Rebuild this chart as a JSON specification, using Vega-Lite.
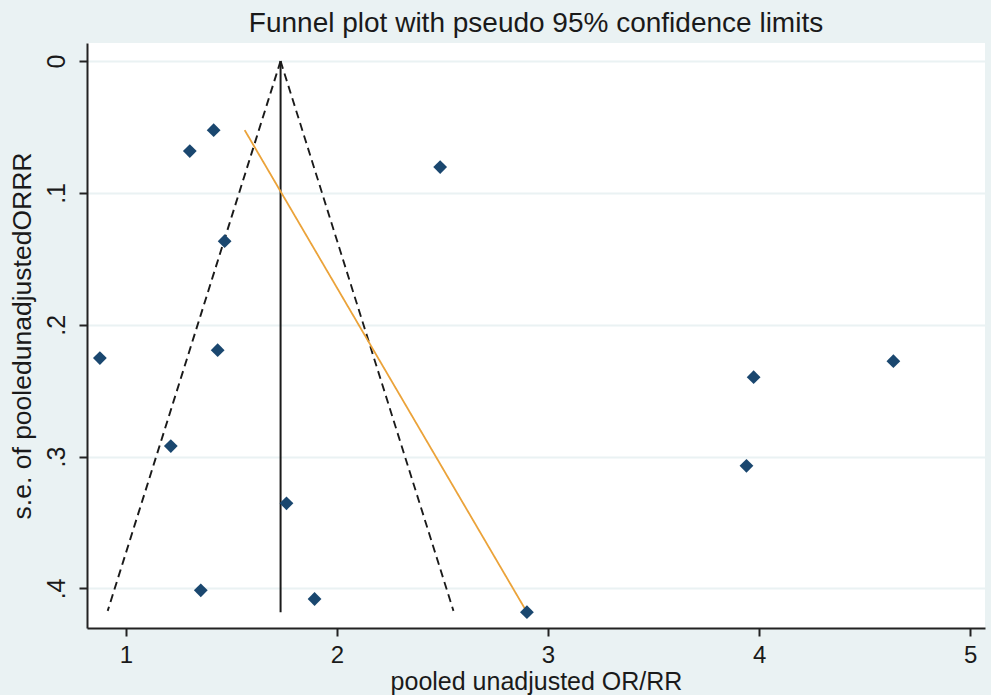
{
  "$schema": "https://vega.github.io/schema/vega-lite/v6.json",
  "autosize": {"type": "none"},
  "width": 898,
  "height": 585,
  "padding": {"left": 87, "top": 43, "right": 6, "bottom": 67},
  "background": "#eaf2f3",
  "config": {
    "font": "Liberation Sans",
    "view": {"fill": "white", "stroke": null},
    "axis": {"labelColor": "#1a1a1a", "titleColor": "#1a1a1a", "domainColor": "#222222", "tickColor": "#222222", "labelFont": "Liberation Sans", "titleFont": "Liberation Sans", "titleFontWeight": "normal"}
  },
  "title": {"text": "Funnel plot with pseudo 95% confidence limits", "fontSize": 28, "fontWeight": "normal", "color": "#1a1a1a", "anchor": "middle", "offset": 5, "font": "Liberation Sans"},
  "datasets": {
    "studies": [
      {"or": 0.877, "se": 0.2253},
      {"or": 1.303, "se": 0.0683},
      {"or": 1.416, "se": 0.0524},
      {"or": 2.489, "se": 0.0804},
      {"or": 1.468, "se": 0.1366},
      {"or": 1.435, "se": 0.2193},
      {"or": 1.213, "se": 0.292},
      {"or": 1.761, "se": 0.3354},
      {"or": 1.355, "se": 0.4014},
      {"or": 1.894, "se": 0.408},
      {"or": 2.9, "se": 0.418},
      {"or": 3.974, "se": 0.2398},
      {"or": 3.94, "se": 0.307},
      {"or": 4.636, "se": 0.2276}
    ],
    "lines": [
      {"series": "pooled", "order": 1, "or": 1.733, "se": 0},
      {"series": "pooled", "order": 2, "or": 1.733, "se": 0.418},
      {"series": "lower", "order": 1, "or": 1.733, "se": 0},
      {"series": "lower", "order": 2, "or": 0.914, "se": 0.417},
      {"series": "upper", "order": 1, "or": 1.733, "se": 0},
      {"series": "upper", "order": 2, "or": 2.552, "se": 0.417},
      {"series": "fit", "order": 1, "or": 1.563, "se": 0.0524},
      {"series": "fit", "order": 2, "or": 2.9, "se": 0.418}
    ]
  },
  "layer": [
    {
      "data": {"name": "lines"},
      "mark": {"type": "line", "clip": true},
      "encoding": {
        "x": {"field": "or", "type": "quantitative", "scale": {"domain": [0.816, 5.07], "nice": false, "zero": false},
          "axis": {"values": [1, 2, 3, 4, 5], "format": "d", "title": "pooled unadjusted OR/RR", "titleFontSize": 25, "titleBaseline": "alphabetic", "titleY": 61, "labelFontSize": 24, "labelPadding": 7, "tickSize": 8, "tickWidth": 2, "domainWidth": 2, "grid": false, "labelFlush": false}},
        "y": {"field": "se", "type": "quantitative", "scale": {"domain": [-0.0137, 0.43], "reverse": true, "nice": false, "zero": false},
          "axis": {"values": [0, 0.1, 0.2, 0.3, 0.4], "title": "s.e. of pooledunadjustedORRR", "titleFontSize": 26.5, "titleBaseline": "alphabetic", "titleX": -57, "labelFontSize": 25, "labelAngle": 270, "labelAlign": "center", "labelBaseline": "alphabetic", "labelPadding": 15, "tickSize": 8, "tickWidth": 2, "domainWidth": 2, "grid": true, "gridColor": "#eaf2f3", "gridWidth": 2, "labelFlush": false,
            "labelExpr": "datum.value == 0 ? '0' : '.' + format(datum.value * 10, 'd')"}},
        "detail": {"field": "series"},
        "order": {"field": "order"},
        "color": {"field": "series", "type": "nominal", "scale": {"domain": ["pooled", "lower", "upper", "fit"], "range": ["#1a1a1a", "#1a1a1a", "#1a1a1a", "#eba33a"]}, "legend": null},
        "strokeDash": {"field": "series", "type": "nominal", "scale": {"domain": ["pooled", "lower", "upper", "fit"], "range": [[1, 0], [8, 5], [8, 5], [1, 0]]}, "legend": null},
        "strokeWidth": {"field": "series", "type": "nominal", "scale": {"domain": ["pooled", "lower", "upper", "fit"], "range": [2, 1.8, 1.8, 1.6]}, "legend": null}
      }
    },
    {
      "data": {"name": "studies"},
      "mark": {"type": "point", "shape": "diamond", "filled": true, "size": 190, "color": "#1a476f", "opacity": 1},
      "encoding": {
        "x": {"field": "or", "type": "quantitative"},
        "y": {"field": "se", "type": "quantitative"}
      }
    }
  ]
}
